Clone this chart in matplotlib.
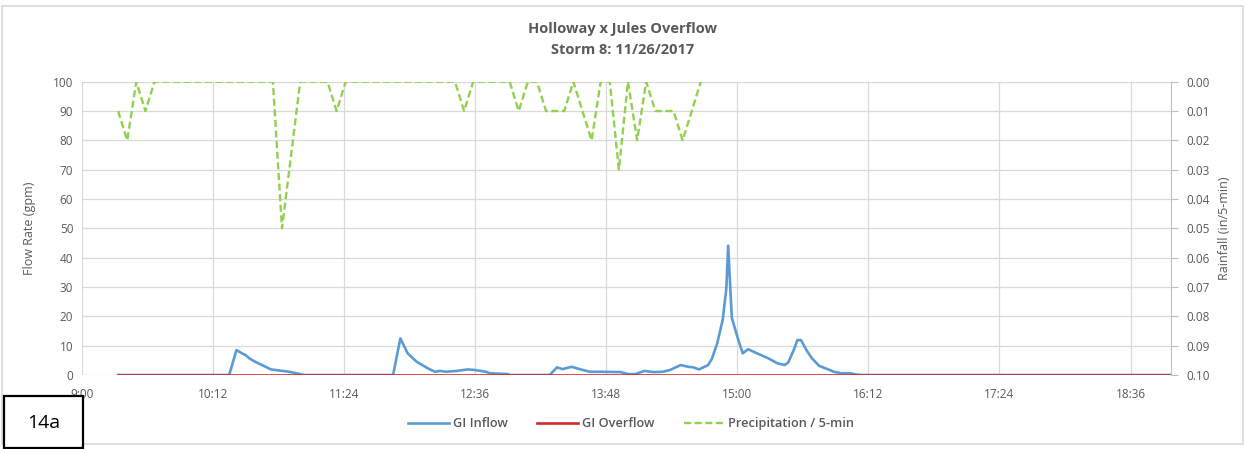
import matplotlib
matplotlib.use("Agg")
import matplotlib.pyplot as plt
import matplotlib.dates as mdates
from matplotlib.patches import Rectangle
from matplotlib.ticker import FormatStrFormatter
import pandas as pd

plt.rcParams['font.family'] = ['Open Sans', 'DejaVu Sans']

day = "2017-11-26 "

# GI inflow (gpm)
inflow_times = ["09:20", "10:21", "10:25", "10:28", "10:30", "10:32", "10:35", "10:39", "10:44",
                "10:49", "10:54", "11:00", "11:02",
                "11:51", "11:55", "11:59", "12:04", "12:10", "12:14", "12:17", "12:20", "12:26",
                "12:32", "12:36", "12:42", "12:44", "12:54", "12:55",
                "13:17", "13:21", "13:24", "13:29", "13:34", "13:39", "13:45", "13:56", "14:00",
                "14:04", "14:09", "14:14", "14:19", "14:23", "14:29", "14:33", "14:36", "14:39",
                "14:42", "14:44", "14:46", "14:49", "14:52", "14:54", "14:55", "14:57", "15:00",
                "15:03", "15:06", "15:09", "15:13", "15:17", "15:22", "15:26", "15:28", "15:31",
                "15:33", "15:35", "15:38", "15:41", "15:45", "15:50", "15:53", "15:57", "16:02",
                "16:05", "16:08", "18:58"]
inflow = [0, 0, 8.5, 7.4, 6.8, 5.7, 4.6, 3.4, 1.9,
          1.5, 1.1, 0.3, 0,
          0, 12.5, 7.4, 4.5, 2.3, 1.1, 1.4, 1.1, 1.4,
          1.9, 1.7, 1.1, 0.6, 0.3, 0,
          0, 2.6, 2.0, 2.8, 1.9, 1.1, 1.1, 1.0, 0.3,
          0.3, 1.4, 1.0, 1.1, 1.7, 3.4, 2.8, 2.6, 1.9,
          2.8, 3.4, 5.4, 10.8, 18.8, 29.5, 44.1, 19.6, 13.1,
          7.4, 8.8, 7.9, 6.8, 5.7, 4.0, 3.4, 4.3, 8.5,
          11.9, 11.9, 8.5, 5.7, 3.1, 1.9, 1.1, 0.6, 0.6,
          0.2, 0, 0]

# GI overflow (gpm)
overflow_times = ["09:20", "18:58"]
overflow = [0, 0]

# rainfall per 5 minutes (in), starting 9:20
precip_start = "09:20"
precip = [0.01, 0.02, 0, 0.01, 0, 0, 0, 0, 0, 0, 0, 0, 0, 0, 0, 0, 0, 0,
          0.05, 0.025, 0, 0, 0, 0, 0.01,
          0, 0, 0, 0, 0, 0, 0, 0, 0, 0, 0, 0, 0,
          0.01, 0, 0, 0, 0, 0, 0.01, 0, 0, 0.01, 0.01, 0.01, 0, 0.01, 0.02,
          0, 0, 0.03, 0, 0.02, 0, 0.01, 0.01, 0.01, 0.02, 0.01, 0]

x_ticks = ["09:00", "10:12", "11:24", "12:36", "13:48", "15:00", "16:12", "17:24", "18:36"]
x_end = "18:58"

t_in = pd.to_datetime([day + t for t in inflow_times])
t_over = pd.to_datetime([day + t for t in overflow_times])
t_rain = pd.date_range(day + precip_start, periods=len(precip), freq="5min")

grey = "#595959"
fig = plt.figure(figsize=(12.45, 4.49), dpi=100)
ax = fig.add_axes([0.0656, 0.1648, 0.9403 - 0.0656, 0.818 - 0.1648])
ax2 = ax.twinx()

l1, = ax.plot(t_in, inflow, color="#5B9BD5", lw=1.9, label="GI Inflow", zorder=3)
l2, = ax.plot(t_over, overflow, color="#D42A2A", lw=1.9, label="GI Overflow", zorder=4)
l3, = ax2.plot(t_rain, precip, color="#92D050", lw=1.7, ls=(0, (3, 1.5)),
               label="Precipitation / 5-min")

ax.set_xlim(pd.Timestamp(day + x_ticks[0]), pd.Timestamp(day + x_end))
ax.set_ylim(0, 100)
ax.set_yticks(range(0, 101, 10))
ax.set_xticks(pd.to_datetime([day + t for t in x_ticks]))
ax.xaxis.set_major_formatter(mdates.DateFormatter("%-H:%M"))
ax.grid(True, color="#d9d9d9", lw=0.9)
ax.set_axisbelow(True)
for s in ["top", "left", "bottom", "right"]:
    ax.spines[s].set_visible(False)
for s in ["top", "left", "bottom"]:
    ax2.spines[s].set_visible(False)
ax2.spines["right"].set_color("#bfbfbf")
ax.tick_params(axis="both", length=0, labelsize=8.5, labelcolor=grey, pad=6)
ax.tick_params(axis="x", pad=9)

ax2.set_ylim(0.10, 0)
ax2.set_yticks([i / 100 for i in range(11)])
ax2.yaxis.set_major_formatter(FormatStrFormatter("%.2f"))
ax2.tick_params(axis="y", length=5, color="#bfbfbf", labelsize=8.5, labelcolor=grey, pad=6)

ax.set_ylabel("Flow Rate (gpm)", color=grey, fontsize=9, labelpad=12)
ax2.set_ylabel("Rainfall (in/5-min)", color=grey, fontsize=9, labelpad=6)

fig.text(0.5, 0.935, "Holloway x Jules Overflow", ha="center", va="center",
         fontsize=10.5, fontweight="bold", color=grey)
fig.text(0.5, 0.888, "Storm 8: 11/26/2017", ha="center", va="center",
         fontsize=10.5, fontweight="bold", color=grey)

fig.legend(handles=[l1, l2, l3], loc="center", bbox_to_anchor=(0.507, 0.056), ncol=3,
           frameon=False, labelcolor=grey, handlelength=3.2,
           columnspacing=2.3, handletextpad=0.3, prop={"weight": "semibold", "size": 9.2})

fig.patches.append(Rectangle((0.002, 0.012), 0.996, 0.975, transform=fig.transFigure,
                             fill=False, edgecolor="#d9d9d9", lw=1.2))
fig.patches.append(Rectangle((0.0035, 0.003), 0.0635, 0.116, transform=fig.transFigure,
                             facecolor="white", edgecolor="black", lw=1.6, zorder=5))
fig.text(0.0352, 0.058, "14a", ha="center", va="center", fontsize=14, color="black", zorder=6)

fig.savefig("out.png", dpi=100)
